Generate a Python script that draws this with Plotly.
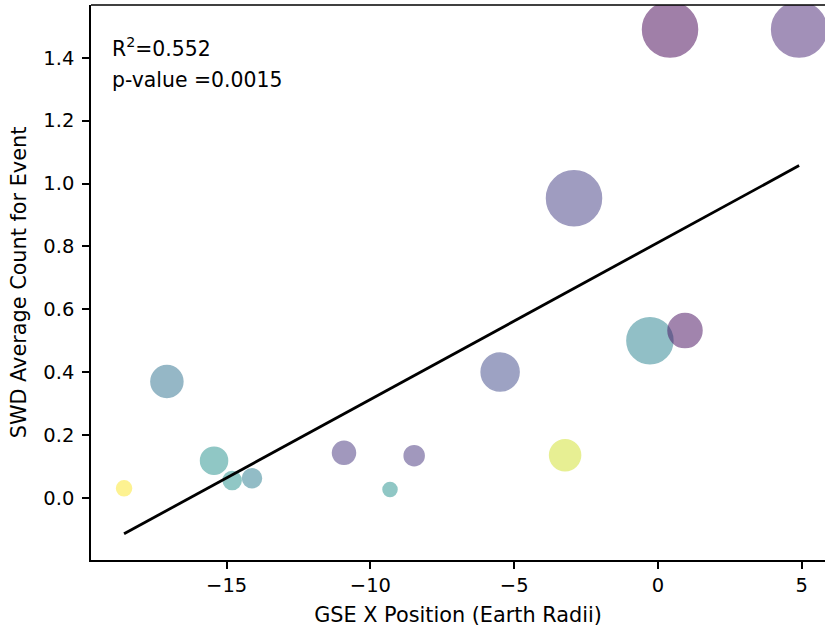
import plotly.graph_objects as go

# ---- data ----
gse_x = [-18.57, -17.08, -15.44, -14.81, -14.12, -10.92, -9.32, -8.48,
         -5.49, -3.23, -2.92, -0.28, 0.94, 0.42, 4.91]
swd_count = [0.03, 0.37, 0.118, 0.055, 0.062, 0.143, 0.026, 0.134,
             0.40, 0.135, 0.953, 0.50, 0.532, 1.49, 1.49]
color_value = [1.0, 0.37, 0.5, 0.5, 0.42, 0.15, 0.5, 0.15,
               0.22, 0.93, 0.18, 0.44, 0.03, 0.0, 0.1]
bubble_size = [15, 32, 27, 18, 19, 23, 14, 20, 38, 31, 55, 46, 34, 55, 55]

fit_slope = 0.0499
fit_intercept = 0.812
r_squared = "0.552"
p_value = "0.0015"

x_tick_vals = [-15, -10, -5, 0, 5]
x_tick_text = ["\u221215", "\u221210", "\u22125", "0", "5"]
y_tick_vals = [0.0, 0.2, 0.4, 0.6, 0.8, 1.0, 1.2, 1.4]
y_tick_text = ["0.0", "0.2", "0.4", "0.6", "0.8", "1.0", "1.2", "1.4"]

FONT = "DejaVu Sans"
FS_TICK = 19.5
FS_TITLE = 20.8
FS_NOTE = 20.4

fit_x = [min(gse_x), max(gse_x)]
fit_y = [fit_slope * v + fit_intercept for v in fit_x]

fig = go.Figure()
fig.add_trace(go.Scatter(
    x=gse_x, y=swd_count, mode="markers",
    marker=dict(
        size=bubble_size, color=color_value, colorscale="Viridis",
        cmin=0, cmax=1, opacity=0.5,
        line=dict(color=color_value, colorscale="Viridis", cmin=0, cmax=1, width=1.5),
    ),
    showlegend=False, hoverinfo="x+y",
))
fig.add_trace(go.Scatter(
    x=fit_x, y=fit_y, mode="lines",
    line=dict(color="black", width=2.8),
    showlegend=False,
))

axis_common = dict(
    showline=True, linecolor="black", linewidth=1.5,
    ticks="outside", ticklen=7, tickwidth=1.5, tickcolor="black",
    showgrid=False, zeroline=False,
    tickfont=dict(family=FONT, size=FS_TICK, color="black"),
)

fig.update_layout(
    width=825, height=628,
    margin=dict(l=91, r=0, t=5, b=68),
    paper_bgcolor="white", plot_bgcolor="white",
    font=dict(family=FONT, size=FS_TICK, color="black"),
    xaxis=dict(
        range=[-19.72, 5.81], tickvals=x_tick_vals, ticktext=x_tick_text,
        title=dict(text="GSE X Position (Earth Radii)",
                   font=dict(family=FONT, size=FS_TITLE, color="black"), standoff=11),
        **axis_common,
    ),
    yaxis=dict(
        range=[-0.198, 1.568], tickvals=y_tick_vals, ticktext=y_tick_text,
        ticklabelstandoff=4,
        title=dict(text="SWD Average Count for Event",
                   font=dict(family=FONT, size=FS_TITLE, color="black"), standoff=11),
        **axis_common,
    ),
    shapes=[dict(type="line", xref="paper", yref="paper", x0=0, x1=1, y0=1, y1=1,
                 line=dict(color="black", width=1.5))],
    annotations=[
        dict(text="R<sup>2</sup>=" + r_squared, xref="paper", yref="paper",
             x=0.026, y=0.923, xanchor="left", yanchor="middle", showarrow=False,
             font=dict(family=FONT, size=FS_NOTE, color="black")),
        dict(text="p-value =" + p_value, xref="paper", yref="paper",
             x=0.026, y=0.865, xanchor="left", yanchor="middle", showarrow=False,
             font=dict(family=FONT, size=FS_NOTE, color="black")),
    ],
)

fig.write_html("out.html", config={"displayModeBar": False},
               post_script="document.body.style.margin='0';")
